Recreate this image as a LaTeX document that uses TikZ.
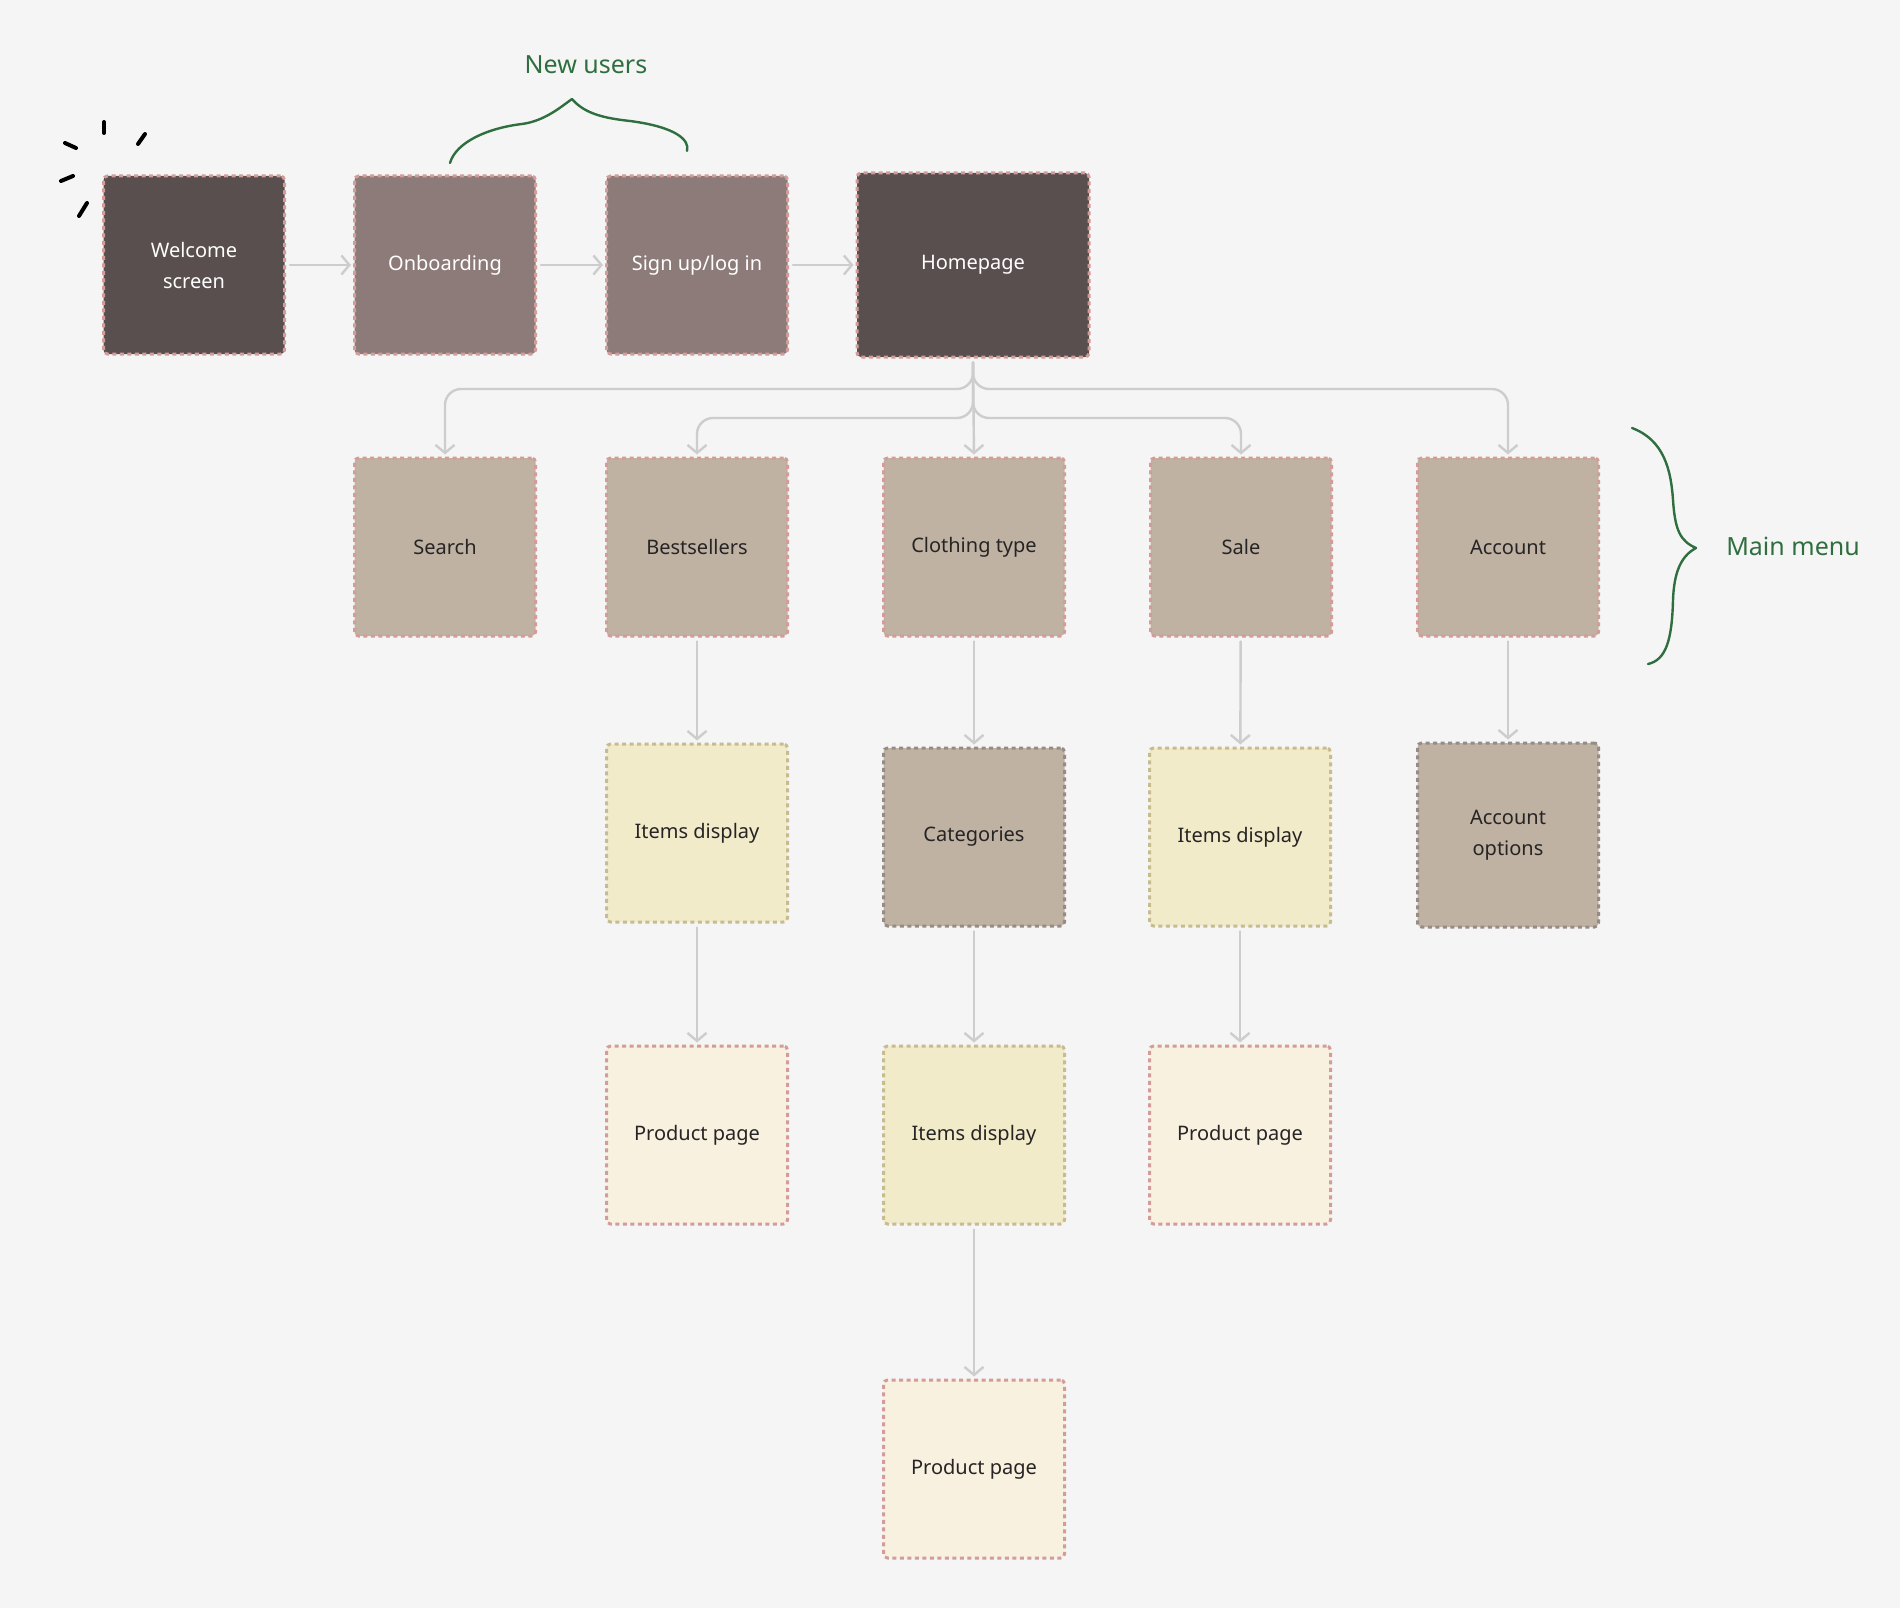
\documentclass[tikz,border=0pt]{standalone}
\usepackage{fontspec}
\setmainfont{Noto Sans}
\usetikzlibrary{arrows.meta}
\definecolor{bg}{HTML}{F5F5F5}
\definecolor{darkbox}{HTML}{594F4E}
\definecolor{midbox}{HTML}{8C7B78}
\definecolor{tanbox}{HTML}{BFB2A2}
\definecolor{yelbox}{HTML}{F2EBC9}
\definecolor{creambox}{HTML}{F8F1E0}
\definecolor{pinkedge}{HTML}{D39C98}
\definecolor{grayedge}{HTML}{968C85}
\definecolor{khakiedge}{HTML}{C7BC8F}
\definecolor{linegray}{HTML}{CDCDCD}
\definecolor{ink}{HTML}{262424}
\definecolor{leaf}{HTML}{2F6F3F}
\begin{document}
\begin{tikzpicture}[x=1pt,y=-1pt,line join=round,line cap=round,
  font=\fontsize{20}{31}\selectfont,
  >={Straight Barb[length=8pt,width=19pt,line width=2.4pt]},
  box/.style={rectangle,rounded corners=4pt,draw=pinkedge,line width=3pt,line cap=butt,
    dash pattern=on 4pt off 3.5pt,minimum width=181pt,minimum height=178pt,
    align=center,text=ink,inner sep=0pt},
  darkstep/.style={box,fill=darkbox,text=white},
  midstep/.style={box,fill=midbox,text=white},
  menustep/.style={box,fill=tanbox},
  itemstep/.style={box,fill=yelbox,draw=khakiedge},
  prodstep/.style={box,fill=creambox},
  conn/.style={draw=linegray,line width=2.4pt,->,shorten <=4pt,shorten >=2pt},
  brace/.style={draw=leaf,line width=2.4pt},
  tag/.style={text=leaf,font=\fontsize{25}{28}\selectfont},
  spark/.style={line width=4pt,line cap=round}]
\useasboundingbox[fill=bg] (0,0) rectangle (1900,1608);

\node[darkstep] (welcome) at (194,265) {Welcome\\screen};
\node[midstep] (onboard) at (445,265) {Onboarding};
\node[midstep] (signup) at (697,265) {Sign up/log in};
\node[darkstep,minimum width=232pt,minimum height=184pt] (home) at (973,265) {Homepage};

\node[menustep] (search) at (445,547) {Search};
\node[menustep] (best) at (697,547) {Bestsellers};
\node[menustep] (cloth) at (974,547) {Clothing type};
\node[menustep] (sale) at (1241,547) {Sale};
\node[menustep] (account) at (1508,547) {Account};

\node[itemstep] (itemsa) at (697,833) {Items display};
\node[menustep,draw=grayedge] (categ) at (974,837) {Categories};
\node[itemstep] (itemsb) at (1240,837) {Items display};
\node[menustep,draw=grayedge,minimum height=184pt] (accopt) at (1508,835) {Account\\options};

\node[prodstep] (proda) at (697,1135) {Product page};
\node[itemstep] (itemsc) at (974,1135) {Items display};
\node[prodstep] (prodb) at (1240,1135) {Product page};
\node[prodstep] (prodc) at (974,1469) {Product page};

\coordinate (forka) at (0,389);
\coordinate (forkb) at (0,418);

\draw[conn] (welcome) -- (onboard);
\draw[conn] (onboard) -- (signup);
\draw[conn] (signup) -- (home);

\draw[conn,rounded corners=16pt] (home.south) -- (home.south |- forka) -| (search.north);
\draw[conn,rounded corners=16pt] (home.south) -- (home.south |- forka) -| (account.north);
\draw[conn,rounded corners=16pt] (home.south) -- (home.south |- forkb) -| (best.north);
\draw[conn,rounded corners=16pt] (home.south) -- (home.south |- forkb) -| (sale.north);
\draw[conn] (home.south) -- (cloth.north);

\draw[conn] (best) -- (itemsa);
\draw[conn] (itemsa) -- (proda);
\draw[conn] (cloth) -- (categ);
\draw[conn] (categ) -- (itemsc);
\draw[conn] (itemsc) -- (prodc);
\draw[conn] (sale) -- (itemsb);
\draw[conn] (itemsb) -- (prodb);
\draw[conn] (account) -- (accopt);

% braces
\draw[brace] (450,163) .. controls (456,142) and (488,128) .. (522,124)
  .. controls (545,121) and (562,106) .. (572,99)
  .. controls (584,113) and (602,118) .. (630,121)
  .. controls (676,127) and (690,140) .. (687,151);
\node[tag] (newusers) at (586,65) {New users};
\draw[brace] (1632,428) .. controls (1664,440) and (1671,470) .. (1673,500)
  .. controls (1675,530) and (1680,541) .. (1696,548)
  .. controls (1681,556) and (1674,572) .. (1673,600)
  .. controls (1672,640) and (1666,660) .. (1648,664);
\node[tag] (mainmenu) at (1793,546) {Main menu};

% sparkle
\draw[spark] (104,122) -- (104,133);
\draw[spark] (145,134) -- (138,144);
\draw[spark] (65,143) -- (76,148);
\draw[spark] (61,181) -- (73,176);
\draw[spark] (87,203) -- (79,216);
\end{tikzpicture}
\end{document}
